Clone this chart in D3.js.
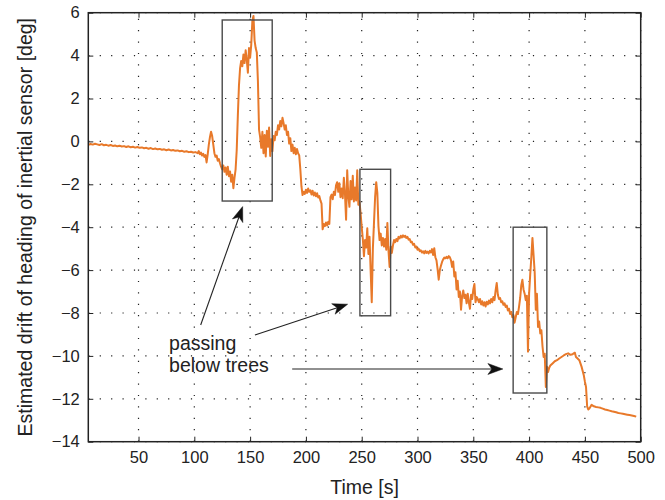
<!DOCTYPE html>
<html>
<head>
<meta charset="utf-8">
<script src="https://cdn.jsdelivr.net/npm/d3@7"></script>
<style>
  html, body { margin: 0; padding: 0; background: #fff; }
  svg { display: block; }
  text { font-family: "Liberation Sans", Arial, Helvetica, sans-serif; fill: #222; }
</style>
</head>
<body>
<svg id="chart" width="665" height="500"></svg>
<script>
// ---------------- data ----------------
const time = [
  5,7,9,11,13,15,17,19,21,23,25,27,29,31,33,35,37,39,41,43,45,47,49,51,53,55,57,59,61,63,65,67,69,71,73,75,77,79,81,83,85,87,89,91,93,95,97,99,101,103,
  104,105,106,107,108,109,110,111,112,113,114,115,116,117,118,119,120,121,122,123,124,125,
  126,127,128,129,130,131,132,133,134,135,136,137,138,139,140,141,142,143,144,145,146,147,148,149,150,
  151,152,153,154,155,156,157,158,159,160,161,162,163,164,165,166,167,168,169,170,171,172,173,174,175,
  176,177,178,179,180,181,182,183,184,185,186,187,188,189,190,191,192,193,194,195,196,197,198,199,200,
  201,202,203,204,205,206,207,208,209,210,211,212,213,214,215,216,217,218,219,220,221,222,223,224,225,
  226,227,228,229,230,231,232,233,234,235,236,237,238,239,240,241,242,243,244,245,246,247,248,249,250,
  251,252,253,254,255,256,257,258,259,260,261,262,263,264,265,266,267,268,269,270,271,272,273,274,275,
  276,277,278,279,280,281,282,283,284,285,286,287,288,289,290,291,292,293,294,295,296,297,298,299,300,
  301,302,303,304,305,306,307,308,309,310,311,312,313,314,315,316,317,318,319,320,321,322,323,324,325,
  326,327,328,329,330,331,332,333,334,335,336,337,338,339,340,341,342,343,344,345,346,347,348,349,350,
  351,352,353,354,355,356,357,358,359,360,361,362,363,364,365,366,367,368,369,370,371,372,373,374,375,
  376,377,378,379,380,381,382,383,384,385,386,387,388,389,390,391,392,393,394,395,396,397,398,399,400,
  401,402,403,404,405,406,407,408,409,410,411,412,413,414,415,416,417,418,419,420,
  421,423,425,427,429,431,433,435,437,439,441,442,443,445,447,449,450,451,452,453,454,456,458,460,
  462,464,466,468,470,472,474,476,478,480,482,484,486,488,490,492,494,496
];
const drift = [
  -0.16,-0.12,-0.15,-0.11,-0.14,-0.17,-0.13,-0.18,-0.16,-0.20,-0.17,-0.21,-0.19,-0.23,-0.20,-0.24,-0.22,-0.26,-0.23,-0.27,-0.25,-0.29,-0.26,-0.30,-0.28,-0.32,-0.30,-0.34,-0.31,-0.36,-0.33,-0.37,-0.35,-0.39,-0.37,-0.41,-0.38,-0.42,-0.40,-0.44,-0.42,-0.46,-0.44,-0.48,-0.46,-0.50,-0.48,-0.52,-0.50,-0.55,
  -0.45,-0.60,-0.52,-0.66,-0.58,-0.72,-0.64,-0.98,-0.60,-0.15,0.20,0.45,0.25,-0.15,-0.55,-0.72,-0.66,-0.90,-0.82,-1.02,-1.18,-1.30,
  -1.12,-1.42,-1.22,-1.55,-1.18,-1.62,-1.40,-1.88,-1.55,-2.18,-1.70,-1.30,-0.40,1.20,2.60,3.40,3.75,3.50,4.05,3.65,4.25,3.80,3.20,4.35,3.90,
  4.50,5.60,5.85,4.70,4.35,4.15,2.80,0.55,0.20,-0.30,0.45,-0.55,0.30,-0.70,0.50,-0.25,0.65,-0.68,0.10,-0.45,0.25,0.05,0.45,0.30,0.75,
  0.55,0.95,0.70,1.10,0.85,0.55,0.75,0.30,0.45,-0.10,0.15,-0.45,-0.15,-0.55,-0.30,-0.60,-0.35,-0.55,-0.65,-1.30,-2.10,-2.50,-2.35,-2.45,-2.25,
  -2.40,-2.20,-2.35,-2.28,-2.48,-2.30,-2.52,-2.38,-2.56,-2.42,-2.62,-2.55,-2.75,-2.90,-4.10,-3.85,-3.95,-3.78,-3.92,-3.75,-3.85,-2.60,-2.48,-2.70,-2.35,
  -2.50,-2.05,-1.90,-2.35,-1.95,-2.60,-2.20,-2.65,-1.70,-2.45,-3.65,-1.35,-2.55,-3.05,-1.85,-2.70,-1.60,-2.80,-2.15,-2.75,-1.35,-2.95,-2.80,-3.35,-4.00,
  -4.55,-5.35,-4.60,-4.95,-4.05,-5.25,-4.45,-6.00,-7.50,-5.00,-3.80,-2.60,-1.90,-2.40,-3.95,-4.60,-4.30,-4.85,-4.50,-4.90,-4.55,-5.05,-3.80,-5.10,-5.85,
  -4.90,-5.20,-4.85,-4.60,-4.70,-4.55,-4.65,-4.45,-4.52,-4.40,-4.48,-4.38,-4.45,-4.40,-4.50,-4.45,-4.58,-4.55,-4.70,-4.68,-4.82,-4.78,-4.95,-4.90,-5.05,
  -5.00,-5.12,-5.08,-5.18,-5.12,-5.22,-5.10,-5.20,-5.14,-5.22,-5.10,-5.18,-5.02,-5.30,-4.98,-5.40,-5.55,-5.95,-6.45,-6.00,-5.80,-5.62,-5.50,-5.42,-5.45,
  -5.38,-5.45,-5.35,-5.40,-5.55,-5.85,-5.60,-6.30,-6.10,-6.90,-6.50,-7.25,-7.00,-7.85,-7.20,-6.95,-7.30,-7.15,-7.55,-7.10,-7.50,-7.80,-7.15,-7.35,-6.90,
  -6.65,-7.50,-7.25,-7.35,-7.50,-7.35,-7.60,-7.45,-7.65,-7.50,-7.70,-7.48,-7.60,-7.42,-7.55,-7.35,-7.50,-7.25,-7.40,-6.95,-6.60,-7.15,-7.35,-7.30,-7.50,
  -7.45,-7.62,-7.55,-7.72,-7.65,-7.88,-7.80,-8.05,-7.95,-8.20,-8.10,-8.45,-8.20,-7.95,-8.05,-7.70,-7.30,-6.70,-6.45,-6.90,-7.10,-7.40,-7.20,-9.80,-7.10,
  -6.20,-5.40,-4.50,-5.30,-6.10,-7.85,-7.10,-8.65,-8.40,-8.95,-8.80,-9.55,-10.05,-9.90,-11.45,-10.50,-10.75,-10.55,-10.45,-10.40,
  -10.35,-10.25,-10.20,-10.12,-10.05,-9.98,-9.92,-9.88,-9.95,-9.92,-9.85,-10.05,-10.10,-10.20,-10.50,-10.90,-11.20,-11.45,-12.35,-12.50,-12.45,-12.28,-12.35,-12.38,
  -12.40,-12.42,-12.46,-12.50,-12.52,-12.55,-12.58,-12.60,-12.63,-12.66,-12.68,-12.70,-12.72,-12.74,-12.76,-12.78,-12.80,-12.83
];
const xTicks = [50,100,150,200,250,300,350,400,450,500];
const yTicks = [-14,-12,-10,-8,-6,-4,-2,0,2,4,6];

// highlighted intervals "passing below trees": [t0, t1, yLow, yHigh]
const boxT0 = [125, 248.4, 385.7];
const boxT1 = [169.8, 275.9, 415.9];
const boxYLow = [-2.78, -8.13, -11.73];
const boxYHigh = [5.66, -1.3, -4.0];

// annotation arrows (tail -> tip) in data units
const arrowTailT = [105.7, 154.3, 187.7];
const arrowTailY = [-8.56, -9.03, -10.61];
const arrowTipT = [143.3, 237.4, 376.5];
const arrowTipY = [-3.04, -7.59, -10.61];
const annotationLines = ["passing", "below trees"];
const annotationT = 77.4, annotationY = -9.73;

const xLabel = "Time [s]";
const yLabel = "Estimated drift of heading of inertial sensor [deg]";

// ---------------- layout ----------------
const W = 665, H = 500;
const m = {left: 88.3, right: 665 - 640.7, top: 12.7, bottom: 500 - 441.7};
const iw = W - m.left - m.right, ih = H - m.top - m.bottom;

const svg = d3.select("#chart");
const g = svg.append("g").attr("transform", `translate(${m.left},${m.top})`);

const x = d3.scaleLinear().domain([5, 500]).range([0, iw]);
const y = d3.scaleLinear().domain([-14, 6]).range([ih, 0]);

// grid (dotted)
const grid = g.append("g").attr("stroke", "#222").attr("stroke-width", 1.2)
  .attr("stroke-dasharray", "1.2,10.2");
grid.selectAll("line.v").data(xTicks).join("line").attr("class", "v")
  .attr("x1", d => x(d)).attr("x2", d => x(d)).attr("y1", ih).attr("y2", 0);
grid.selectAll("line.h").data(yTicks).join("line").attr("class", "h")
  .attr("y1", d => y(d)).attr("y2", d => y(d)).attr("x1", 0).attr("x2", iw);

// data line
const pts = time.map((t, i) => [t, drift[i]]);
g.append("path").datum(pts)
  .attr("fill", "none").attr("stroke", "#E8792A").attr("stroke-width", 2)
  .attr("stroke-linejoin", "round")
  .attr("d", d3.line().x(d => x(d[0])).y(d => y(d[1])));

// boxes
g.selectAll("rect.box").data(boxT0).join("rect").attr("class", "box")
  .attr("x", (d, i) => x(d)).attr("width", (d, i) => x(boxT1[i]) - x(d))
  .attr("y", (d, i) => y(boxYHigh[i])).attr("height", (d, i) => y(boxYLow[i]) - y(boxYHigh[i]))
  .attr("fill", "none").attr("stroke", "#4a4a4a").attr("stroke-width", 1.4);

// axes (MATLAB-style inward ticks, box)
const fmt = d3.format("d");
const ax = g.append("g").attr("transform", `translate(0,${ih})`)
  .call(d3.axisBottom(x).tickValues(xTicks).tickFormat(fmt).tickSizeInner(-5).tickSizeOuter(0).tickPadding(10));
const ay = g.append("g")
  .call(d3.axisLeft(y).tickValues(yTicks).tickFormat(fmt).tickSizeInner(-5).tickSizeOuter(0).tickPadding(8.5));
const axT = g.append("g")
  .call(d3.axisTop(x).tickValues(xTicks).tickFormat("").tickSizeInner(-5).tickSizeOuter(0));
const ayR = g.append("g").attr("transform", `translate(${iw},0)`)
  .call(d3.axisRight(y).tickValues(yTicks).tickFormat("").tickSizeInner(-5).tickSizeOuter(0));
[ax, ay, axT, ayR].forEach(a => {
  a.select(".domain").remove();
  a.selectAll(".tick line").attr("stroke", "#222");
  a.selectAll("text").attr("font-size", 16.5).attr("fill", "#222")
    .style("font-family", '"Liberation Sans", Arial, Helvetica, sans-serif');
});
g.append("rect").attr("x", 0).attr("y", 0).attr("width", iw).attr("height", ih)
  .attr("fill", "none").attr("stroke", "#222").attr("stroke-width", 1.5);

// arrows
const arrows = g.append("g");
arrowTailT.forEach((t0, i) => {
  const x0 = x(t0), y0 = y(arrowTailY[i]);
  const x1 = x(arrowTipT[i]), y1 = y(arrowTipY[i]);
  const dx = x1 - x0, dy = y1 - y0, len = Math.hypot(dx, dy);
  const ux = dx / len, uy = dy / len, nx = -uy, ny = ux;
  const L = 15, Wd = 5.5, back = 4;
  arrows.append("line").attr("x1", x0).attr("y1", y0)
    .attr("x2", x1 - (L - back) * ux).attr("y2", y1 - (L - back) * uy)
    .attr("stroke", "#222").attr("stroke-width", 1.1);
  const head = [
    [x1, y1],
    [x1 - L * ux + Wd * nx, y1 - L * uy + Wd * ny],
    [x1 - (L - back) * ux, y1 - (L - back) * uy],
    [x1 - L * ux - Wd * nx, y1 - L * uy - Wd * ny]
  ];
  arrows.append("path").attr("d", "M" + head.map(p => p.join(",")).join("L") + "Z")
    .attr("fill", "#111").attr("stroke", "#111").attr("stroke-width", 0.5);
});

// annotation text
const ann = g.append("text").attr("x", x(annotationT)).attr("y", y(annotationY))
  .attr("font-size", 19.5);
annotationLines.forEach((s, i) => {
  ann.append("tspan").attr("x", x(annotationT)).attr("dy", i === 0 ? 0 : 21.7).text(s);
});

// axis titles
svg.append("text").attr("x", m.left + iw / 2).attr("y", 494)
  .attr("text-anchor", "middle").attr("font-size", 19.5).text(xLabel);
svg.append("text").attr("transform", `translate(32,${m.top + ih / 2}) rotate(-90)`)
  .attr("text-anchor", "middle").attr("font-size", 19.5).text(yLabel);
</script>
</body>
</html>
